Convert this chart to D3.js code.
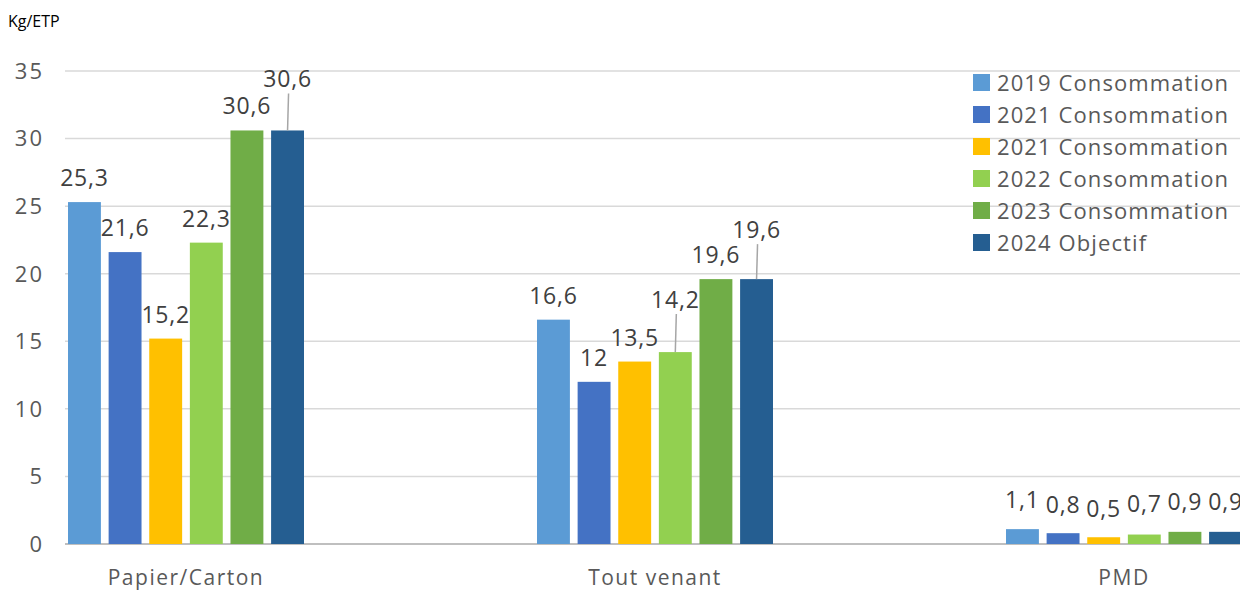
<!DOCTYPE html>
<html>
<head>
<meta charset="utf-8">
<script src="https://cdn.jsdelivr.net/npm/d3@7"></script>
<style>
  body { margin: 0; background: #fff; }
  svg { display: block; font-family: "Open Sans", Lato, sans-serif; }
</style>
</head>
<body>
<svg id="chart" width="1240" height="592"></svg>
<script>
const categories = ["Papier/Carton", "Tout venant", "PMD"];
const seriesNames = ["2019 Consommation", "2021 Consommation", "2021 Consommation", "2022 Consommation", "2023 Consommation", "2024 Objectif"];
const s2019 = [25.3, 16.6, 1.1];
const s2021a = [21.6, 12, 0.8];
const s2021b = [15.2, 13.5, 0.5];
const s2022 = [22.3, 14.2, 0.7];
const s2023 = [30.6, 19.6, 0.9];
const s2024 = [30.6, 19.6, 0.9];
const yTicks = [0, 5, 10, 15, 20, 25, 30, 35];

const colors = ["#5B9BD5", "#4472C4", "#FFC000", "#92D050", "#70AD47", "#255E91"];
const seriesValues = [s2019, s2021a, s2021b, s2022, s2023, s2024];

// extra lift for labels Excel moved by hand (series-category -> px), drawn with a leader line
const labelLift = {
  "5-0": 27, "3-1": 28, "5-1": 25
};
// PMD labels sit in a row above the small bars
const pmdBaseline = [508, 513, 517, 512, 510, 510];

const svg = d3.select("#chart");
const width = 1240, height = 592;
const plotLeft = 65;
const y = d3.scaleLinear().domain([0, 35]).range([544, 71]);

const x0 = d3.scaleBand().domain(categories).range([186 - 234.5, 1124 + 234.5]).padding(0);
const x1 = d3.scaleBand().domain(d3.range(seriesNames.length))
  .range([x0.bandwidth() / 2 - 118, x0.bandwidth() / 2 + 118])
  .paddingInner(0.19).paddingOuter(0);

// gridlines
svg.append("g").selectAll("line").data(yTicks).join("line")
  .attr("x1", plotLeft).attr("x2", width)
  .attr("y1", d => y(d)).attr("y2", d => y(d))
  .attr("stroke", d => d === 0 ? "#bfbfbf" : "#d9d9d9")
  .attr("stroke-width", d => d === 0 ? 2 : 1.5);

// y tick labels
svg.append("g").selectAll("text").data(yTicks).join("text")
  .attr("x", 44).attr("y", d => y(d)).attr("dy", "0.36em")
  .attr("text-anchor", "end")
  .attr("fill", "#595959").style("font-size", "22px")
  .style("letter-spacing", "2px")
  .text(d => d);

svg.append("text").attr("x", 8).attr("y", 27)
  .attr("fill", "#000").style("font-size", "16px").text("Kg/ETP");

// bars
const groups = svg.append("g").selectAll("g").data(categories).join("g")
  .attr("transform", c => `translate(${x0(c)},0)`);

groups.each(function (c, ci) {
  const g = d3.select(this);
  seriesValues.forEach((vals, si) => {
    const v = vals[ci];
    const bx = x1(si);
    const cx = bx + x1.bandwidth() / 2;
    g.append("rect")
      .attr("x", bx).attr("width", x1.bandwidth())
      .attr("y", y(v)).attr("height", y(0) - y(v))
      .attr("fill", colors[si]);

    const lift = labelLift[`${si}-${ci}`] || 0;
    let ly = y(v) - 16 - lift;
    if (c === "PMD") ly = pmdBaseline[si];
    if (lift) {
      g.append("line")
        .attr("x1", cx + 1).attr("x2", cx)
        .attr("y1", ly + 6).attr("y2", y(v))
        .attr("stroke", "#a6a6a6").attr("stroke-width", 1.5);
    }
    g.append("text")
      .attr("x", cx).attr("y", ly)
      .attr("text-anchor", "middle")
      .attr("fill", "#404040").style("font-size", "23px")
      .style("letter-spacing", "0.8px")
      .text(String(v).replace(".", ","));
  });
});

// category labels
svg.append("g").selectAll("text").data(categories).join("text")
  .attr("x", c => x0(c) + x0.bandwidth() / 2).attr("y", 585)
  .attr("text-anchor", "middle")
  .attr("fill", "#595959").style("font-size", "21px")
  .style("letter-spacing", "1.5px")
  .text(c => c);

// legend
const legend = svg.append("g").attr("transform", "translate(973,72)");
const rows = legend.selectAll("g").data(seriesNames).join("g")
  .attr("transform", (d, i) => `translate(0,${i * 32})`);
rows.append("rect").attr("x", 0).attr("y", 2).attr("width", 17).attr("height", 17)
  .attr("fill", (d, i) => colors[i]);
rows.append("text").attr("x", 24).attr("y", 11).attr("dy", "0.36em")
  .attr("fill", "#595959").style("font-size", "22px")
  .style("letter-spacing", "1.1px")
  .text(d => d);
</script>
</body>
</html>
